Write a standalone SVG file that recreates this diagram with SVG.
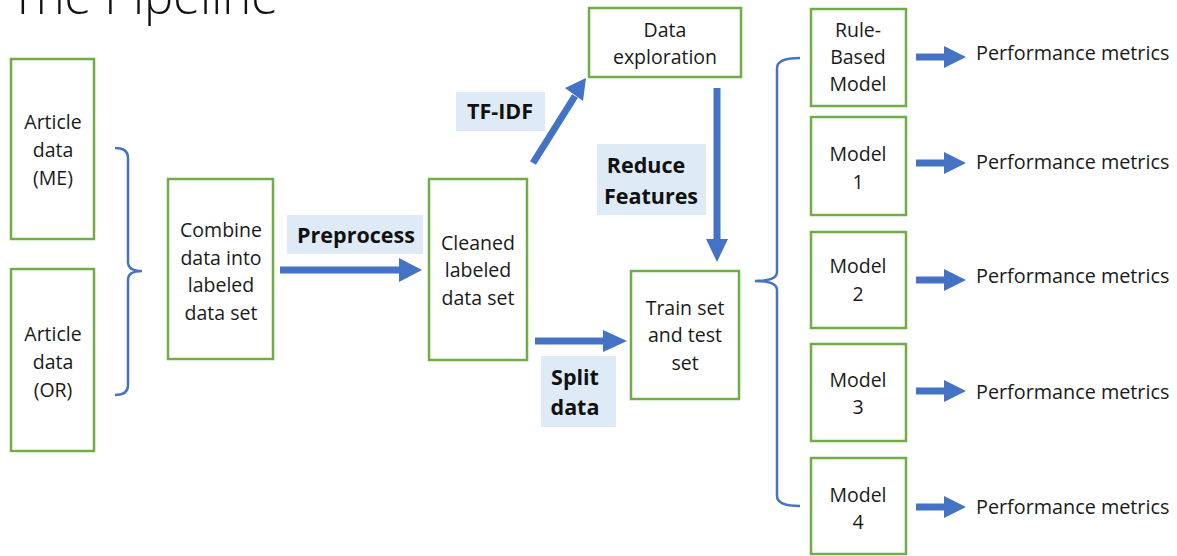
<svg xmlns="http://www.w3.org/2000/svg" width="1177" height="556" viewBox="0 0 1177 556">
<style>
.box{fill:#fff;stroke:#70AD47;stroke-width:2.5}
.t{font-family:"Open Sans","Liberation Sans",sans-serif;font-size:19.5px;fill:#1a1a1a;text-anchor:middle}
.pm{font-family:"Open Sans","Liberation Sans",sans-serif;font-size:19.8px;fill:#1a1a1a}
.lb{fill:#DEEBF7}
.b{font-family:"Open Sans","Liberation Sans",sans-serif;font-size:21.5px;font-weight:bold;fill:#111;text-anchor:middle}
.sh{stroke:#4472C4;stroke-width:7;fill:none}
.hd{fill:#4472C4}
.br{stroke:#4472C4;stroke-width:2.5;fill:none}
</style>
<rect width="1177" height="556" fill="#fff"/>
<text x="10" y="14" style="font-family:'Open Sans','Liberation Sans',sans-serif;font-size:49px;font-weight:300;fill:#111">The Pipeline</text>

<g id="labels">
<rect class="lb" x="287" y="215" width="136" height="39"/>
<text class="b" x="356" y="243">Preprocess</text>
<rect class="lb" x="456" y="92" width="89" height="39"/>
<text class="b" x="500" y="119">TF-IDF</text>
<rect class="lb" x="597" y="144" width="109" height="71"/>
<text class="b" x="646" y="173">Reduce</text>
<text class="b" x="651" y="204">Features</text>
<rect class="lb" x="541" y="356" width="75" height="71"/>
<text class="b" x="575" y="385">Split</text>
<text class="b" x="575" y="415">data</text>
</g>

<g id="connectors">
<path class="br" d="M115,148 Q128,148 128,158 L128,262 Q128,271 142,271 Q128,271 128,280 L128,385 Q128,395 115,395"/>
<path class="br" d="M800,58 Q777,58 777,68 L777,272 Q777,281 755,281 Q777,281 777,290 L777,496 Q777,506 800,506"/>
<line class="sh" x1="280" y1="270" x2="400" y2="270"/>
<polygon class="hd" points="399,258 422,270 399,282"/>
<line class="sh" x1="535" y1="341" x2="604" y2="341"/>
<polygon class="hd" points="603,330 627,341 603,352"/>
<line class="sh" x1="533" y1="163" x2="575" y2="96"/>
<polygon class="hd" points="565,88 586,78 583,101"/>
<line class="sh" x1="717" y1="88" x2="717" y2="240"/>
<polygon class="hd" points="706,239 728,239 717,262"/>
<g>
<line class="sh" x1="916" y1="57" x2="945" y2="57"/><polygon class="hd" points="944,46 966,57 944,68"/>
<line class="sh" x1="916" y1="163" x2="945" y2="163"/><polygon class="hd" points="944,152 966,163 944,174"/>
<line class="sh" x1="916" y1="280" x2="945" y2="280"/><polygon class="hd" points="944,269 966,280 944,291"/>
<line class="sh" x1="916" y1="391" x2="945" y2="391"/><polygon class="hd" points="944,380 966,391 944,402"/>
<line class="sh" x1="916" y1="507" x2="945" y2="507"/><polygon class="hd" points="944,496 966,507 944,518"/>
</g>
</g>

<g id="article-me"><rect class="box" x="11" y="59" width="83" height="180"/>
<text class="t" x="53" y="129">Article</text><text class="t" x="53" y="157">data</text><text class="t" x="53" y="185">(ME)</text></g>
<g id="article-or"><rect class="box" x="11" y="269" width="83" height="182"/>
<text class="t" x="53" y="341">Article</text><text class="t" x="53" y="369">data</text><text class="t" x="53" y="397">(OR)</text></g>
<g id="combine"><rect class="box" x="168" y="179" width="105" height="180"/>
<text class="t" x="221" y="237">Combine</text><text class="t" x="221" y="265">data into</text><text class="t" x="221" y="292">labeled</text><text class="t" x="221" y="320">data set</text></g>
<g id="cleaned"><rect class="box" x="429" y="179" width="98" height="181"/>
<text class="t" x="478" y="250">Cleaned</text><text class="t" x="478" y="277">labeled</text><text class="t" x="478" y="305">data set</text></g>
<g id="exploration"><rect class="box" x="589" y="8" width="152" height="69"/>
<text class="t" x="665" y="37">Data</text><text class="t" x="665" y="64">exploration</text></g>
<g id="trainset"><rect class="box" x="631" y="271" width="108" height="128"/>
<text class="t" x="685" y="315">Train set</text><text class="t" x="685" y="342">and test</text><text class="t" x="685" y="370">set</text></g>
<g id="rule-based"><rect class="box" x="811" y="9" width="95" height="97"/>
<text class="t" x="858" y="37">Rule-</text><text class="t" x="858" y="64">Based</text><text class="t" x="858" y="91">Model</text></g>
<g id="model1"><rect class="box" x="811" y="117" width="95" height="98"/>
<text class="t" x="858" y="161">Model</text><text class="t" x="858" y="189">1</text></g>
<g id="model2"><rect class="box" x="811" y="232" width="95" height="96"/>
<text class="t" x="858" y="273">Model</text><text class="t" x="858" y="301">2</text></g>
<g id="model3"><rect class="box" x="811" y="344" width="95" height="97"/>
<text class="t" x="858" y="387">Model</text><text class="t" x="858" y="414">3</text></g>
<g id="model4"><rect class="box" x="811" y="458" width="95" height="96"/>
<text class="t" x="858" y="502">Model</text><text class="t" x="858" y="529">4</text></g>

<g id="metrics">
<text class="pm" x="976" y="60">Performance metrics</text>
<text class="pm" x="976" y="169">Performance metrics</text>
<text class="pm" x="976" y="283">Performance metrics</text>
<text class="pm" x="976" y="399">Performance metrics</text>
<text class="pm" x="976" y="514">Performance metrics</text>
</g>
</svg>
